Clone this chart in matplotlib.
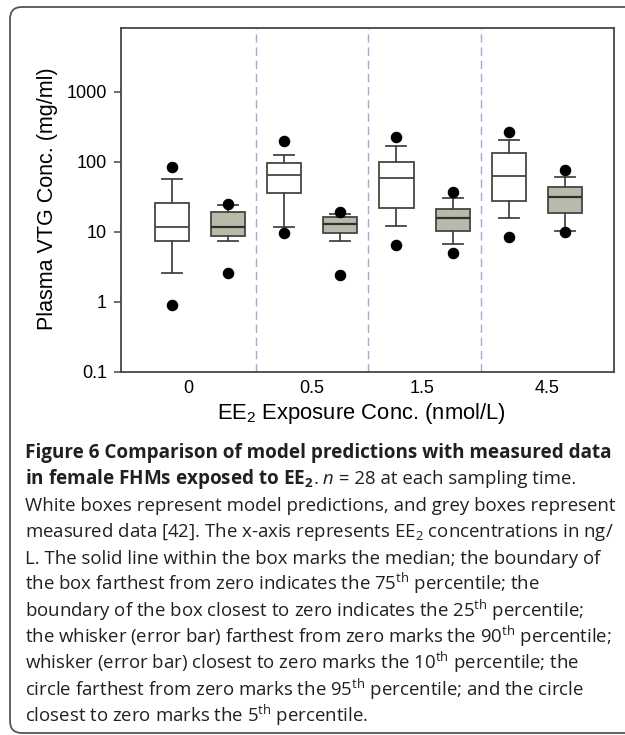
import matplotlib
matplotlib.use('Agg')
import matplotlib.pyplot as plt
from matplotlib.patches import FancyBboxPatch
from matplotlib.transforms import IdentityTransform
from matplotlib.ticker import NullLocator, FixedLocator, FixedFormatter

# ---------------- data ----------------
concentrations = ["0", "0.5", "1.5", "4.5"]

# model predictions (white boxes)
model_p5 = [0.90, 9.7, 6.4, 8.5]
model_p10 = [2.6, 11.7, 11.9, 15.7]
model_p25 = [7.4, 35.7, 21.8, 27.7]
model_p50 = [11.7, 64.6, 59.0, 63.0]
model_p75 = [25.5, 96.8, 100.0, 132.0]
model_p90 = [56.0, 125.0, 169.0, 202.0]
model_p95 = [85.0, 198.0, 223.0, 263.0]

# measured data (grey boxes)
meas_p5 = [2.55, 2.43, 4.9, 9.9]
meas_p10 = [7.3, 7.3, 6.7, 10.3]
meas_p25 = [8.6, 9.5, 10.1, 18.7]
meas_p50 = [11.7, 12.8, 15.8, 31.0]
meas_p75 = [19.1, 16.2, 21.3, 43.5]
meas_p90 = [24.1, 17.9, 30.3, 61.0]
meas_p95 = [24.6, 19.3, 37.3, 75.4]

y_ticks = [0.1, 1, 10, 100, 1000]
y_tick_labels = ["0.1", "1", "10", "100", "1000"]

# ---------------- layout ----------------
W, H = 625, 735
plt.rcParams['font.family'] = ['Liberation Sans', 'DejaVu Sans']
plt.rcParams['mathtext.fontset'] = 'custom'
plt.rcParams['mathtext.default'] = 'regular'
plt.rcParams['mathtext.rm'] = 'Open Sans'
plt.rcParams['mathtext.it'] = 'Open Sans:italic'
plt.rcParams['mathtext.bf'] = 'Open Sans:bold'

fig = plt.figure(figsize=(W / 100, H / 100), dpi=100)
fig.patch.set_facecolor('white')

ax_l, ax_r, ax_t, ax_b = 120.8, 614.3, 28.3, 371.7
ax = fig.add_axes([ax_l / W, 1 - ax_b / H, (ax_r - ax_l) / W, (ax_b - ax_t) / H])

edge = '#454545'
lw = 1.3
model_pos = [1, 3, 5, 7]
meas_pos = [2, 4, 6, 8]


def make_stats(p5, p10, p25, p50, p75, p90, p95):
    out = []
    for i in range(len(p50)):
        out.append(dict(med=p50[i], q1=p25[i], q3=p75[i],
                        whislo=p10[i], whishi=p90[i],
                        fliers=[p5[i], p95[i]]))
    return out


common = dict(widths=0.607, capwidths=0.357, patch_artist=True, showfliers=True,
              whiskerprops=dict(color=edge, lw=lw),
              capprops=dict(color=edge, lw=lw),
              flierprops=dict(marker='o', markerfacecolor='black',
                              markeredgecolor='black', markersize=7.3,
                              linestyle='none'),
              manage_ticks=False, zorder=3)

ax.bxp(make_stats(model_p5, model_p10, model_p25, model_p50, model_p75, model_p90, model_p95),
       positions=model_pos,
       boxprops=dict(facecolor='white', edgecolor=edge, lw=lw),
       medianprops=dict(color=edge, lw=lw), **common)
ax.bxp(make_stats(meas_p5, meas_p10, meas_p25, meas_p50, meas_p75, meas_p90, meas_p95),
       positions=meas_pos,
       boxprops=dict(facecolor='#b9baa9', edgecolor=edge, lw=lw),
       medianprops=dict(color='#303030', lw=1.6), **common)

for xv in [2.5, 4.5, 6.5]:
    ax.axvline(xv, color='#a8a8d2', lw=1.0, linestyle=(0, (6, 3.5)), zorder=1)

ax.set_yscale('log')
ax.set_ylim(0.1, 8000)
ax.set_xlim(0.09, 8.88)
ax.yaxis.set_major_locator(FixedLocator(y_ticks))
ax.yaxis.set_major_formatter(FixedFormatter(y_tick_labels))
ax.yaxis.set_minor_locator(NullLocator())
ax.set_xticks([1.29, 3.49, 5.45, 7.69])
ax.set_xticklabels(concentrations)
ax.tick_params(axis='y', direction='out', length=5, width=1.1, color=edge,
               labelsize=13, pad=5)
ax.tick_params(axis='x', length=0, labelsize=13, pad=6)
for s in ax.spines.values():
    s.set_color(edge)
    s.set_linewidth(1.3)

fig.text(53.3 / W, 1 - 199 / H, "Plasma VTG Conc. (mg/ml)", rotation=90,
         rotation_mode='anchor', ha='center', va='baseline', fontsize=15.5)
fig.text(361 / W, 1 - 419.5 / H, "EE$_2$ Exposure Conc. (nmol/L)",
         ha='center', va='baseline', fontsize=15.8)

# ---------------- outer frame ----------------
frame = FancyBboxPatch((10, 2), 640, 726, boxstyle="round,pad=0,rounding_size=12",
                       transform=IdentityTransform(), fill=False,
                       edgecolor='#555555', lw=1.3)
fig.patches.append(frame)

# ---------------- caption ----------------
renderer = fig.canvas.get_renderer()
cap_color = '#231f20'
cap_font = 'Open Sans'


def text_width(s, **kw):
    t = fig.text(0, 0, s, **kw)
    w = t.get_window_extent(renderer).width
    t.remove()
    return w


bold_ref = "Figure 6 Comparison of model predictions with measured data"
reg_ref = "the box farthest from zero indicates the 75$^{th}$ percentile; the"
bold_size = 10 * 588 / text_width(bold_ref, family=cap_font, weight='bold', fontsize=10)
reg_size = 10 * 514 / text_width(reg_ref, family=cap_font, fontsize=10)

B = dict(family=cap_font, weight='bold', fontsize=bold_size, color=cap_color)
R = dict(family=cap_font, fontsize=reg_size, color=cap_color)
I = dict(family=cap_font, style='italic', fontsize=reg_size, color=cap_color)

caption_lines = [
    [(bold_ref, B)],
    [("in female FHMs exposed to EE$_2$", B), (".", R), (" n", I),
     (" = 28 at each sampling time.", R)],
    [("White boxes represent model predictions, and grey boxes represent", R)],
    [("measured data [42]. The x-axis represents EE$_2$ concentrations in ng/", R)],
    [("L. The solid line within the box marks the median; the boundary of", R)],
    [(reg_ref, R)],
    [("boundary of the box closest to zero indicates the 25$^{th}$ percentile;", R)],
    [("the whisker (error bar) farthest from zero marks the 90$^{th}$ percentile;", R)],
    [("whisker (error bar) closest to zero marks the 10$^{th}$ percentile; the", R)],
    [("circle farthest from zero marks the 95$^{th}$ percentile; and the circle", R)],
    [("closest to zero marks the 5$^{th}$ percentile.", R)],
]

x0 = 25
first_baseline = 458
line_step = 26.4
for k, segs in enumerate(caption_lines):
    yb = first_baseline + k * line_step
    x = x0
    for s, kw in segs:
        t = fig.text(x / W, 1 - yb / H, s, ha='left', va='baseline', **kw)
        x += t.get_window_extent(renderer).width

fig.savefig('out.png', dpi=100, facecolor='white')
